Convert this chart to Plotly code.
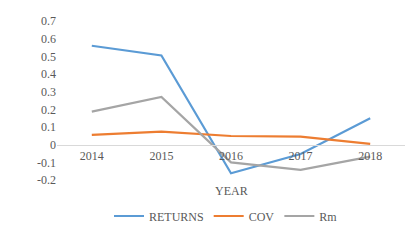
import plotly.graph_objects as go

years = ["2014", "2015", "2016", "2017", "2018"]
returns = [0.56, 0.505, -0.162, -0.053, 0.149]
cov = [0.055, 0.074, 0.049, 0.045, 0.004]
rm = [0.187, 0.27, -0.10, -0.143, -0.068]
y_tickvals = [0.7, 0.6, 0.5, 0.4, 0.3, 0.2, 0.1, 0, -0.1, -0.2]
y_ticktext = ["0.7", "0.6", "0.5", "0.4", "0.3", "0.2", "0.1", "0", "-0.1", "-0.2"]

ymin, ymax = -0.2, 0.7
FAM = "Liberation Serif"
font = dict(family=FAM, size=12, color="#595959")

# the page body has an 8px margin, so the figure is sized to fit the window
W, H = 408, 237

fig = go.Figure()
fig.add_trace(go.Scatter(x=years, y=returns, mode="lines", name="RETURNS",
                         line=dict(color="#5B9BD5", width=2.2)))
fig.add_trace(go.Scatter(x=years, y=cov, mode="lines", name="COV",
                         line=dict(color="#ED7D31", width=2.2)))
fig.add_trace(go.Scatter(x=years, y=rm, mode="lines", name="Rm",
                         line=dict(color="#A5A5A5", width=2.2)))

fig.update_layout(
    width=W, height=H,
    margin=dict(l=49, r=11, t=13, b=65, autoexpand=False),
    paper_bgcolor="white", plot_bgcolor="white",
    font=font,
    showlegend=True,
    legend=dict(orientation="h", x=218 / W, xanchor="center", xref="container",
                y=1 - 208 / H, yanchor="middle", yref="container",
                font=font, itemwidth=30, tracegroupgap=0),
    xaxis=dict(type="category", anchor="free", position=(0 - ymin) / (ymax - ymin),
               showline=True, linecolor="#D9D9D9", linewidth=1, automargin=False,
               showgrid=False, ticks="", tickfont=font, range=[-0.5, 4.5]),
    yaxis=dict(range=[ymin, ymax], tickvals=y_tickvals, ticktext=y_ticktext,
               showgrid=False, zeroline=False, showline=False, ticks="",
               automargin=False, tickfont=font),
    annotations=[dict(text="YEAR", x=0.5, xref="paper", y=ymin, yref="y",
                      yshift=-2, yanchor="top", showarrow=False,
                      font=dict(family=FAM, size=12, color="#595959"))],
)

fig.write_html("out.html")
